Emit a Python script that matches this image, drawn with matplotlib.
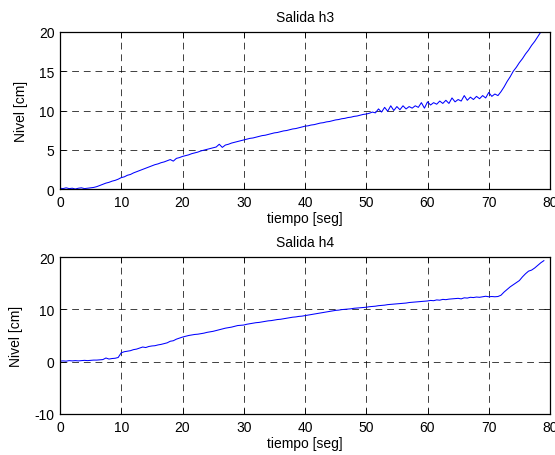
import numpy as np
import matplotlib
matplotlib.use("Agg")
import matplotlib.pyplot as plt

plt.rcParams['font.family'] = ['Liberation Sans', 'DejaVu Sans']
plt.rcParams['axes.unicode_minus'] = False

dt = 0.5
h3 = [0.1, 0.05, 0.15, 0.05, 0.1, 0.0, 0.1, 0.15, 0.05, 0.1,
      0.15, 0.2, 0.3, 0.45, 0.6, 0.75, 0.85, 1.0, 1.1, 1.25,
      1.45, 1.55, 1.75, 1.85, 2.05, 2.2, 2.35, 2.5, 2.65, 2.8,
      2.95, 3.1, 3.2, 3.35, 3.45, 3.6, 3.75, 3.55, 3.9, 4.0,
      4.15, 4.25, 4.35, 4.5, 4.6, 4.7, 4.85, 4.95, 5.05, 5.15,
      5.25, 5.35, 5.7, 5.3, 5.6, 5.7, 5.85, 5.95, 6.05, 6.15,
      6.25, 6.35, 6.45, 6.5, 6.6, 6.7, 6.8, 6.85, 6.95, 7.05,
      7.15, 7.2, 7.3, 7.4, 7.45, 7.55, 7.65, 7.7, 7.8, 7.9,
      8.0, 8.05, 8.15, 8.2, 8.3, 8.4, 8.45, 8.55, 8.6, 8.7,
      8.8, 8.85, 8.95, 9.0, 9.1, 9.15, 9.25, 9.3, 9.4, 9.5,
      9.55, 9.65, 9.8, 9.7, 10.2, 9.8, 10.4, 9.9, 10.6, 10.0,
      10.5, 10.1, 10.6, 10.2, 10.5, 10.3, 10.6, 10.4, 11.0, 10.3,
      11.1, 10.7, 11.0, 10.8, 11.2, 10.9, 11.3, 10.9, 11.6, 11.1,
      11.4, 11.2, 11.9, 11.3, 11.7, 11.4, 11.8, 11.5, 11.9, 11.6,
      12.3, 11.8, 12.1, 11.9, 12.4, 13.0, 13.7, 14.3, 15.0, 15.5,
      16.1, 16.6, 17.2, 17.7, 18.3, 18.8, 19.4, 20.0, 20.5]

h4 = [0.1, 0.15, 0.1, 0.2, 0.15, 0.2, 0.15, 0.2, 0.25, 0.2,
      0.25, 0.3, 0.3, 0.35, 0.4, 0.7, 0.5, 0.6, 0.65, 0.8,
      1.7, 1.9, 2.0, 2.1, 2.3, 2.4, 2.6, 2.8, 2.7, 2.9,
      3.0, 3.05, 3.2, 3.3, 3.45, 3.6, 3.9, 4.0, 4.3, 4.5,
      4.7, 4.85, 5.0, 5.1, 5.2, 5.25, 5.35, 5.45, 5.6, 5.7,
      5.8, 5.95, 6.1, 6.25, 6.4, 6.5, 6.6, 6.75, 6.9, 6.95,
      7.0, 7.15, 7.25, 7.35, 7.45, 7.5, 7.6, 7.7, 7.8, 7.85,
      7.95, 8.05, 8.1, 8.2, 8.3, 8.4, 8.5, 8.55, 8.65, 8.7,
      8.8, 8.9, 9.0, 9.1, 9.2, 9.3, 9.4, 9.5, 9.6, 9.7,
      9.8, 9.85, 9.95, 10.0, 10.05, 10.1, 10.2, 10.25, 10.3, 10.35,
      10.4, 10.5, 10.55, 10.6, 10.7, 10.75, 10.8, 10.9, 10.95, 11.0,
      11.05, 11.1, 11.15, 11.2, 11.3, 11.35, 11.4, 11.45, 11.5, 11.55,
      11.6, 11.7, 11.65, 11.8, 11.75, 11.9, 11.85, 11.95, 12.0, 12.05,
      12.1, 12.0, 12.2, 12.15, 12.3, 12.25, 12.35, 12.3, 12.4, 12.5,
      12.4, 12.45, 12.4, 12.45, 12.7, 13.3, 13.8, 14.3, 14.7, 15.1,
      15.5, 16.2, 16.8, 17.3, 17.5, 17.9, 18.4, 18.9, 19.3]

titles = ["Salida h3", "Salida h4"]
xticks = [0, 10, 20, 30, 40, 50, 60, 70, 80]
yticks_top = [0, 5, 10, 15, 20]
yticks_bot = [-10, 0, 10, 20]

t = np.arange(len(h3)) * dt

fig = plt.figure(figsize=(5.55, 4.56), dpi=100)
W, H = 555, 456
ax1 = fig.add_axes([60 / W, 1 - 190 / H, 490 / W, 157 / H])
ax2 = fig.add_axes([60 / W, 1 - 415 / H, 490 / W, 157 / H])

fs = 10
for ax, y, title, yt in [(ax1, h3, titles[0], yticks_top), (ax2, h4, titles[1], yticks_bot)]:
    ax.plot(t, y, color=(0, 0, 1), lw=0.75)
    ax.set_xlim(0, 80)
    ax.set_ylim(yt[0], yt[-1])
    ax.set_xticks(xticks)
    ax.set_yticks(yt)
    ax.grid(True, color='k', linestyle=(0, (7, 5)), linewidth=0.7, alpha=0.75)
    ax.tick_params(direction='in', top=True, right=True, labelsize=fs, length=4, width=0.6, pad=4)
    for s in ax.spines.values():
        s.set_linewidth(0.9)
    ax.set_title(title, fontsize=fs, pad=8)
    ax.set_xlabel("tiempo [seg]", fontsize=fs, labelpad=2)
    ax.set_ylabel("Nivel [cm]", fontsize=fs, labelpad=8)

fig.savefig("out.png", dpi=100)
